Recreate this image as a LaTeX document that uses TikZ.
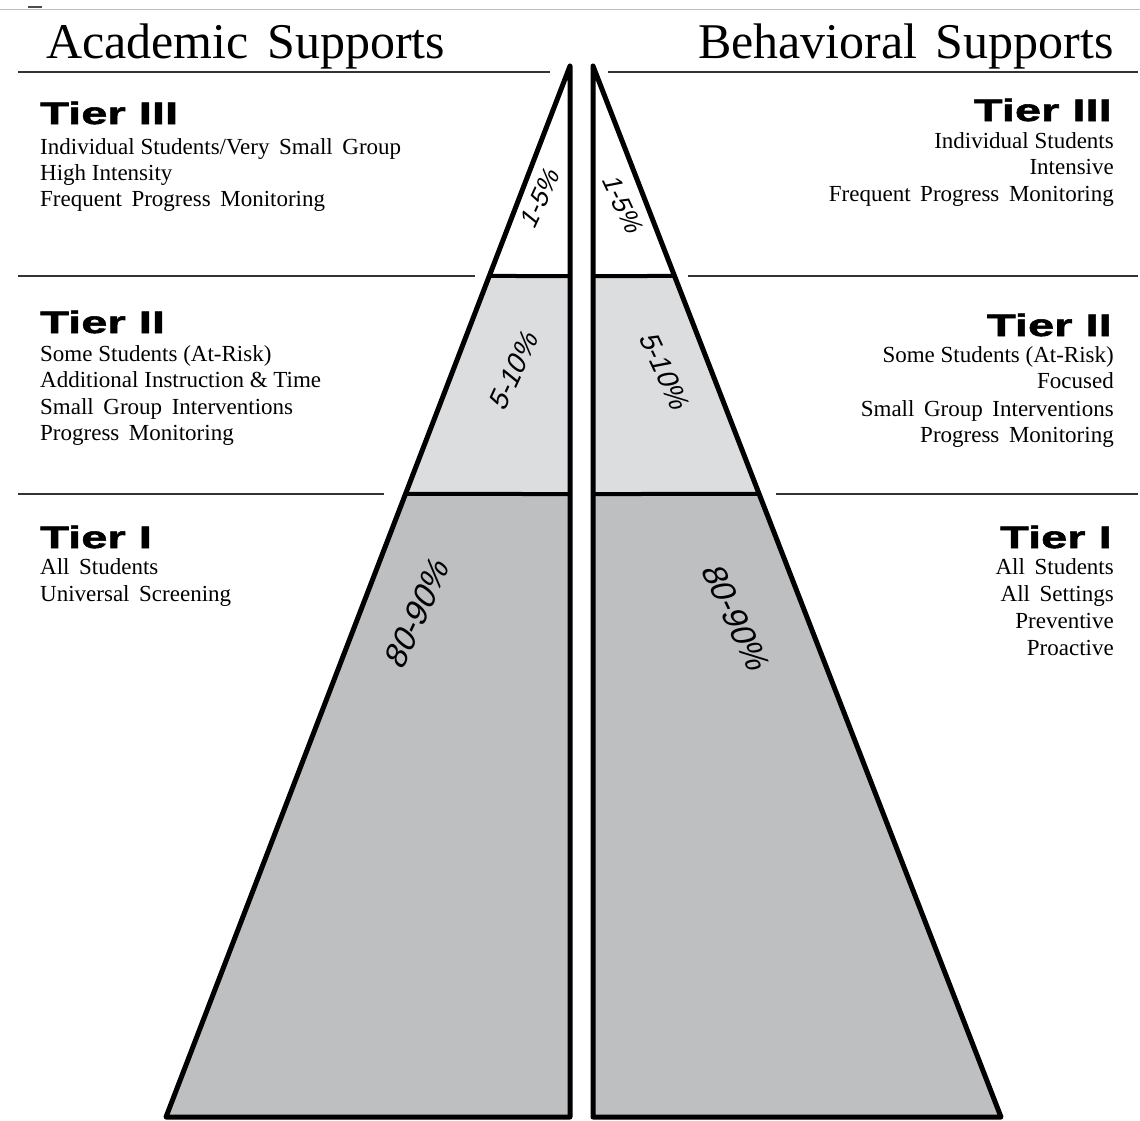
\documentclass[tikz,border=0pt]{standalone}
\usepackage{fontspec}
\usetikzlibrary{calc}
\setmainfont{Liberation Serif}
\newfontfamily\tierfont{Liberation Sans}[FakeStretch=1.52,FakeBold=1.8]
\newfontfamily\pctfont{Liberation Sans}[FakeSlant=0.25]
\definecolor{tiertwo}{HTML}{DCDDDF}
\definecolor{tierone}{HTML}{BEBFC1}
\tikzset{
  headtxt/.style={font=\fontsize{50}{60}\selectfont, inner sep=0pt},
  tiertxt/.style={font=\tierfont\bfseries\fontsize{31}{36}\selectfont, inner sep=0pt},
  bodytxt/.style={font=\fontsize{23}{26}\selectfont, inner sep=0pt},
  pctsmall/.style={font=\pctfont\fontsize{26}{30}\selectfont, inner sep=0pt},
  pctmid/.style={font=\pctfont\fontsize{28}{32}\selectfont, inner sep=0pt},
  pctbig/.style={font=\pctfont\fontsize{33}{38}\selectfont, inner sep=0pt},
  rulerline/.style={line width=1.4pt, draw=black!80},
  triline/.style={line width=5pt, line join=round, draw=black},
  bandline/.style={line width=4pt, draw=black}
}
\begin{document}
\begin{tikzpicture}[x=1pt,y=-1pt]
\useasboundingbox (0,0) rectangle (1140,1120);
\fill[white] (0,0) rectangle (1140,1120);
% top border
\draw[line width=1pt, draw=black!25] (0,9) -- (1140,9);
\draw[line width=2pt, draw=black!70] (28,7) -- (42,7);

% triangle corners
\coordinate (LA) at (570,66);
\coordinate (LB) at (570,1117);
\coordinate (LC) at (166,1117);
\coordinate (RA) at (593,66);
\coordinate (RB) at (593,1117);
\coordinate (RC) at (1001,1117);
% band points
\coordinate (L1) at ($(LA)!0.1998!(LC)$);
\coordinate (L2) at ($(LA)!0.4072!(LC)$);
\coordinate (L1r) at (570,276);
\coordinate (L2r) at (570,494);
\coordinate (R1) at ($(RA)!0.1998!(RC)$);
\coordinate (R2) at ($(RA)!0.4072!(RC)$);
\coordinate (R1l) at (593,276);
\coordinate (R2l) at (593,494);

% fills
\fill[tiertwo] (L1) -- (L1r) -- (L2r) -- (L2) -- cycle;
\fill[tierone] (L2) -- (L2r) -- (LB) -- (LC) -- cycle;
\fill[tiertwo] (R1) -- (R1l) -- (R2l) -- (R2) -- cycle;
\fill[tierone] (R2) -- (R2l) -- (RB) -- (RC) -- cycle;

% bands
\draw[bandline] (L1) -- (L1r);
\draw[bandline] (L2) -- (L2r);
\draw[bandline] (R1) -- (R1l);
\draw[bandline] (R2) -- (R2l);

% outlines
\draw[triline] (LA) -- (LB) -- (LC) -- cycle;
\draw[triline] (RA) -- (RB) -- (RC) -- cycle;

% rules
\coordinate (r1a) at (18,72);  \coordinate (r1b) at (550,72);
\coordinate (r1c) at (608,72); \coordinate (r1d) at (1138,72);
\coordinate (r2a) at (18,276);  \coordinate (r2b) at (475,276);
\coordinate (r2c) at (688,276); \coordinate (r2d) at (1138,276);
\coordinate (r3a) at (18,494);  \coordinate (r3b) at (384,494);
\coordinate (r3c) at (776,494); \coordinate (r3d) at (1138,494);
\draw[rulerline] (r1a) -- (r1b);
\draw[rulerline] (r1c) -- (r1d);
\draw[rulerline] (r2a) -- (r2b);
\draw[rulerline] (r2c) -- (r2d);
\draw[rulerline] (r3a) -- (r3b);
\draw[rulerline] (r3c) -- (r3d);

% headings
\node[headtxt, anchor=base west] (hacad) at (46,58) {Academic\hspace{0.12em} Supports};
\node[headtxt, anchor=base east] (hbeh) at (1114,58) {Behavioral\hspace{0.12em} Supports};

% left text
\node[tiertxt, anchor=base west] (lt3) at (40,124) {Tier III};
\node[bodytxt, anchor=base west] (lt3a) at (40,154) {Individual Students/Very\, Small\, Group};
\node[bodytxt, anchor=base west] (lt3b) at (40,180) {High Intensity};
\node[bodytxt, anchor=base west] (lt3c) at (40,206) {Frequent\, Progress\, Monitoring};

\node[tiertxt, anchor=base west] (lt2) at (40,333) {Tier II};
\node[bodytxt, anchor=base west] (lt2a) at (40,361) {Some Students (At-Risk)};
\node[bodytxt, anchor=base west] (lt2b) at (40,387) {Additional Instruction \& Time};
\node[bodytxt, anchor=base west] (lt2c) at (40,414) {Small\, Group\, Interventions};
\node[bodytxt, anchor=base west] (lt2d) at (40,440) {Progress\, Monitoring};

\node[tiertxt, anchor=base west] (lt1) at (40,548) {Tier I};
\node[bodytxt, anchor=base west] (lt1a) at (40,574) {All\, Students};
\node[bodytxt, anchor=base west] (lt1b) at (40,601) {Universal\, Screening};

% right text
\node[tiertxt, anchor=base east] (rt3) at (1112,121) {Tier III};
\node[bodytxt, anchor=base east] (rt3a) at (1114,148) {Individual Students};
\node[bodytxt, anchor=base east] (rt3b) at (1114,174) {Intensive};
\node[bodytxt, anchor=base east] (rt3c) at (1114,201) {Frequent\, Progress\, Monitoring};

\node[tiertxt, anchor=base east] (rt2) at (1112,336) {Tier II};
\node[bodytxt, anchor=base east] (rt2a) at (1114,362) {Some Students (At-Risk)};
\node[bodytxt, anchor=base east] (rt2b) at (1114,388) {Focused};
\node[bodytxt, anchor=base east] (rt2c) at (1114,416) {Small\, Group\, Interventions};
\node[bodytxt, anchor=base east] (rt2d) at (1114,442) {Progress\, Monitoring};

\node[tiertxt, anchor=base east] (rt1) at (1112,548) {Tier I};
\node[bodytxt, anchor=base east] (rt1a) at (1114,574) {All\, Students};
\node[bodytxt, anchor=base east] (rt1b) at (1114,601) {All\, Settings};
\node[bodytxt, anchor=base east] (rt1c) at (1114,628) {Preventive};
\node[bodytxt, anchor=base east] (rt1d) at (1114,655) {Proactive};

% percentages
\node[pctsmall, rotate=65] (lp3) at (539,199) {1-5\%};
\node[pctmid, rotate=65] (lp2) at (513,372) {5-10\%};
\node[pctbig, rotate=65] (lp1) at (416,615) {80-90\%};
\node[pctsmall, rotate=-65] (rp3) at (622,203) {1-5\%};
\node[pctmid, rotate=-65] (rp2) at (664,370) {5-10\%};
\node[pctbig, rotate=-65] (rp1) at (735,616) {80-90\%};
\end{tikzpicture}
\end{document}
